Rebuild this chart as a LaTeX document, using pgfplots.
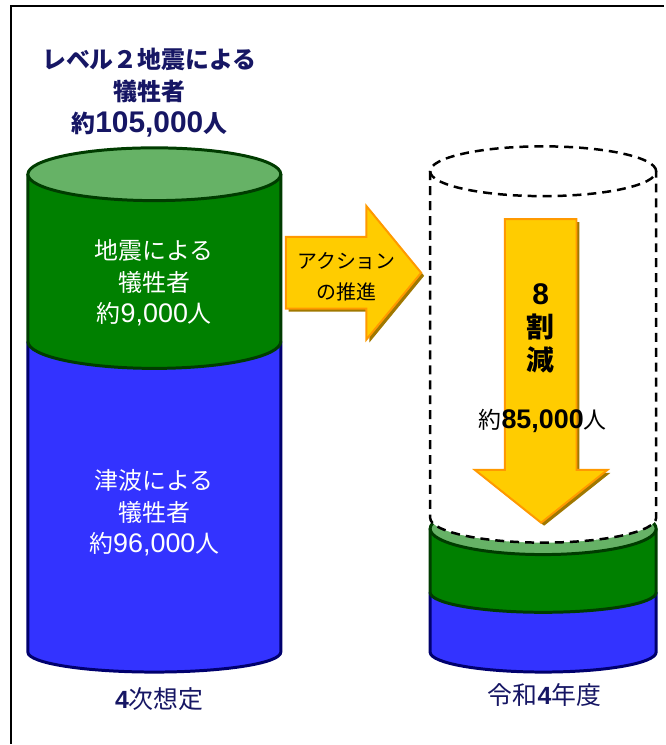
\documentclass[border=0pt]{standalone}
\usepackage{fontspec}
\usepackage{pgfplots}
\pgfplotsset{compat=1.18}
\setmainfont{Noto Sans CJK JP}
\newfontfamily\lat{Liberation Sans}
\definecolor{cgreen}{RGB}{0,128,0}
\definecolor{clgreen}{RGB}{102,178,102}
\definecolor{cdgreen}{RGB}{0,60,0}
\definecolor{cblue}{RGB}{51,51,255}
\definecolor{cnavy}{RGB}{0,0,110}
\definecolor{ctext}{RGB}{22,22,100}
\definecolor{cyel}{RGB}{255,204,0}
\definecolor{corange}{RGB}{255,153,0}
\definecolor{cshadow}{RGB}{160,120,0}
\begin{document}
\begin{tikzpicture}
\begin{axis}[hide axis, scale only axis, width=665pt, height=745pt,
  xmin=0, xmax=665, ymin=-90, ymax=655, clip=false]
\path (0,-90) rectangle (665,655);
% frame
\draw[line width=2.5pt, black] (11,-92) -- (11,649) -- (667,649);
% ---- left cylinder (4次想定) ----
\addplot[ybar, bar width=254, bar shift=0pt, fill=cgreen, draw=none] coordinates {(155,480)};
\addplot[ybar, bar width=254, bar shift=0pt, fill=cblue, draw=none] coordinates {(155,312)};
% bottom of blue
\fill[cblue] (28,2) -- (28,0) arc[start angle=180, end angle=360, x radius=127pt, y radius=20pt] -- (282,2) -- cycle;
\draw[cnavy, line width=3pt] (28,312) -- (28,0) arc[start angle=180, end angle=360, x radius=127pt, y radius=20pt] -- (282,312);
% green segment
\fill[cgreen] (28,315) -- (28,312) arc[start angle=180, end angle=360, x radius=127pt, y radius=27pt] -- (282,315) -- cycle;
\draw[cdgreen, line width=3pt] (28,480) -- (28,312) arc[start angle=180, end angle=360, x radius=127pt, y radius=27pt] -- (282,480);
\filldraw[fill=clgreen, draw=cdgreen, line width=3pt] (155,480) ellipse[x radius=127pt, y radius=26.5pt];
% ---- right cylinder (令和4年度) ----
% dashed empty part (total before reduction)
\addplot[ybar, bar width=227, bar shift=0pt, fill=white, draw=none] coordinates {(545.5,483)};
\addplot[ybar, bar width=227, bar shift=0pt, fill=cgreen, draw=none] coordinates {(545.5,124)};
\addplot[ybar, bar width=227, bar shift=0pt, fill=cblue, draw=none] coordinates {(545.5,60)};
\fill[cblue] (432,2) -- (432,0) arc[start angle=180, end angle=360, x radius=113.5pt, y radius=20pt] -- (659,2) -- cycle;
\draw[cnavy, line width=3pt] (432,60) -- (432,0) arc[start angle=180, end angle=360, x radius=113.5pt, y radius=20pt] -- (659,60);
\fill[cgreen] (432,63) -- (432,60) arc[start angle=180, end angle=360, x radius=113.5pt, y radius=20pt] -- (659,63) -- cycle;
\draw[cdgreen, line width=3pt] (432,124) -- (432,60) arc[start angle=180, end angle=360, x radius=113.5pt, y radius=20pt] -- (659,124);
\filldraw[fill=clgreen, draw=cdgreen, line width=3pt] (545.5,124) ellipse[x radius=113.5pt, y radius=26pt];
\fill[white] (545.5,135) ellipse[x radius=113.5pt, y radius=25pt];
\draw[black, line width=2.5pt, dash pattern=on 9pt off 6pt]
  (432,483) -- (432,135) arc[start angle=180, end angle=360, x radius=113.5pt, y radius=25pt] -- (659,483);
\draw[black, line width=2.5pt, dash pattern=on 9pt off 6pt] (545.5,483) ellipse[x radius=113.5pt, y radius=25pt];
% ---- arrows ----
\fill[cshadow] ([xshift=3pt,yshift=-3pt]287,417) -- ([xshift=3pt,yshift=-3pt]368,417) -- ([xshift=3pt,yshift=-3pt]368,448) -- ([xshift=3pt,yshift=-3pt]423,381) -- ([xshift=3pt,yshift=-3pt]368,314) -- ([xshift=3pt,yshift=-3pt]368,345) -- ([xshift=3pt,yshift=-3pt]287,345) -- cycle;
\filldraw[fill=cyel, draw=corange, line width=2pt, line join=miter] (287,417) -- (368,417) -- (368,448) -- (423,381) -- (368,314) -- (368,345) -- (287,345) -- cycle;
\fill[cshadow] ([xshift=3pt,yshift=-3pt]507,435) -- ([xshift=3pt,yshift=-3pt]579,435) -- ([xshift=3pt,yshift=-3pt]579,183) -- ([xshift=3pt,yshift=-3pt]610,183) -- ([xshift=3pt,yshift=-3pt]543.5,130) -- ([xshift=3pt,yshift=-3pt]477,183) -- ([xshift=3pt,yshift=-3pt]507,183) -- cycle;
\filldraw[fill=cyel, draw=corange, line width=2pt, line join=miter] (507,435) -- (579,435) -- (579,183) -- (610,183) -- (543.5,130) -- (477,183) -- (507,183) -- cycle;
% ---- texts ----
\node[align=center, text=ctext, font=\bfseries\fontsize{24}{32}\selectfont] at (150,562)
  {レベル２地震による\\犠牲者\\約{\lat\bfseries\fontsize{30}{32}\selectfont 105,000}人};
\node[align=center, text=white, font=\fontsize{24}{32}\selectfont] at (155,371)
  {地震による\\犠牲者\\約{\lat\fontsize{27}{32}\selectfont 9,000}人};
\node[align=center, text=white, font=\fontsize{24}{32}\selectfont] at (155,140)
  {津波による\\犠牲者\\約{\lat\fontsize{27}{32}\selectfont 96,000}人};
\node[align=center, text=black, font=\fontsize{20}{31}\selectfont] at (348,377)
  {アクション\\の推進};
\node[align=center, text=black, font=\bfseries\fontsize{28}{33}\selectfont] at (543,325)
  {{\lat\bfseries\fontsize{30}{33}\selectfont 8}\\割\\減};
\node[text=black, font=\fontsize{23}{32}\selectfont] at (545,232)
  {約{\lat\bfseries\fontsize{27}{32}\selectfont 85,000}人};
\node[text=ctext, font=\fontsize{25}{32}\selectfont] at (160,-47)
  {{\lat\bfseries 4}次想定};
\node[text=ctext, font=\fontsize{25}{32}\selectfont] at (547,-43)
  {令和{\lat\bfseries 4}年度};
\end{axis}
\end{tikzpicture}
\end{document}
